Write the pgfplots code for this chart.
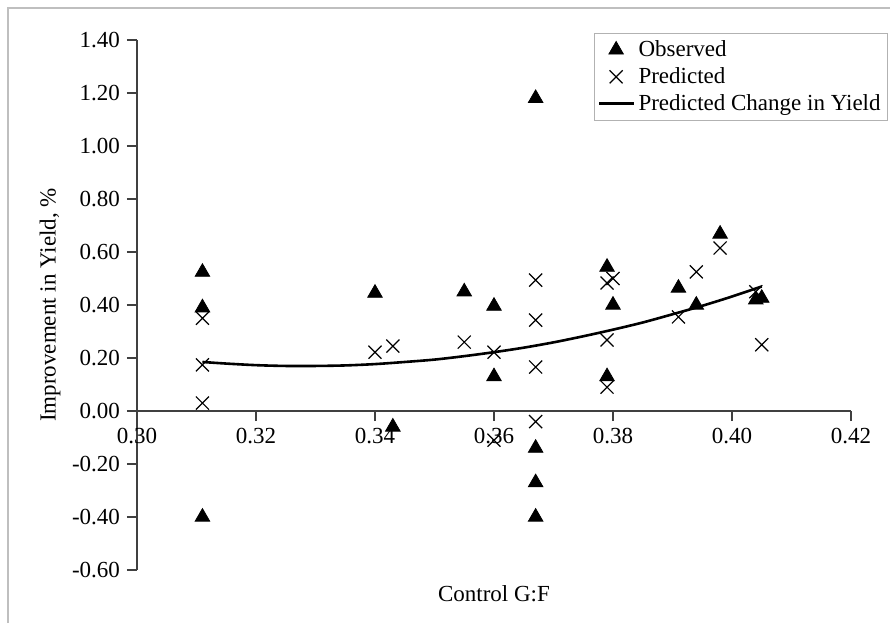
\documentclass[border=0pt]{standalone}
\usepackage{fontspec}
\setmainfont{Liberation Serif}
\usepackage{pgfplots}
\pgfplotsset{compat=1.18}
\begin{document}
\begin{tikzpicture}
\begin{axis}[
  scale only axis, width=357pt, height=265pt,
  xmin=0.30, xmax=0.42, ymin=-0.60, ymax=1.40,
  enlargelimits=false, clip=false,
  axis x line=middle, axis y line=left,
  axis line style={-, black!75, line width=0.8pt},
  xtick={0.30,0.32,0.34,0.36,0.38,0.40,0.42},
  ytick={-0.6,-0.4,-0.2,0,0.2,0.4,0.6,0.8,1.0,1.2,1.4},
  xtick align=outside, ytick align=outside,
  hide obscured x ticks=false,
  major tick length=5pt, minor tick num=0,
  tick style={black!75, line width=0.8pt},
  ticklabel style={font=\fontsize{11.5}{13.5}\selectfont},
  /pgf/number format/fixed, /pgf/number format/fixed zerofill,
  /pgf/number format/precision=2,
  /pgf/number format/assume math mode=true,
  xlabel={Control G:F},
  ylabel={Improvement in Yield, \%},
  label style={font=\fontsize{11.5}{13.5}\selectfont},
  xlabel style={at={(axis description cs:0.5,0)}, anchor=north, yshift=-4pt},
  ylabel style={at={([xshift=-43.5pt]axis description cs:0,0.5)}, anchor=center},
  legend style={at={(rel axis cs:1,1)}, anchor=north east, xshift=18.5pt, yshift=3.5pt,
    draw=gray!60, fill=white, font=\fontsize{11.5}{13.5}\selectfont,
    cells={anchor=west}, row sep=0pt, inner sep=1.5pt},
]
\addplot[only marks, mark=triangle*, mark size=4.2pt, black] coordinates {
  (0.311,0.524) (0.311,0.39) (0.311,-0.40) (0.340,0.445) (0.343,-0.06)
  (0.355,0.45) (0.360,0.396) (0.360,0.13) (0.367,1.18) (0.367,-0.14)
  (0.367,-0.27) (0.367,-0.40) (0.379,0.543) (0.379,0.13) (0.380,0.40)
  (0.391,0.464) (0.394,0.40) (0.398,0.668) (0.404,0.42) (0.405,0.426)
};
\addlegendentry{Observed}
\addplot[only marks, mark=x, mark size=4.6pt, black, mark options={line width=0.6pt}] coordinates {
  (0.311,0.35) (0.311,0.174) (0.311,0.03) (0.340,0.222) (0.343,0.245)
  (0.355,0.26) (0.360,0.222) (0.360,-0.11) (0.367,0.494) (0.367,0.343)
  (0.367,0.166) (0.367,-0.04) (0.379,0.483) (0.379,0.268) (0.379,0.09)
  (0.380,0.50) (0.391,0.355) (0.394,0.525) (0.398,0.615) (0.404,0.45)
  (0.405,0.25)
};
\addlegendentry{Predicted}
\addplot[no marks, smooth, black, line width=1.3pt] coordinates {
  (0.311,0.185) (0.315,0.179) (0.320,0.173) (0.325,0.170) (0.330,0.170)
  (0.335,0.172) (0.340,0.177) (0.345,0.185) (0.350,0.194) (0.355,0.207)
  (0.360,0.222) (0.365,0.239) (0.370,0.259) (0.375,0.282) (0.380,0.307)
  (0.385,0.334) (0.390,0.365) (0.395,0.397) (0.400,0.432) (0.405,0.470)
};
\addlegendentry{Predicted Change in Yield}
\coordinate (bl) at (rel axis cs:0,0);
\coordinate (tr) at (rel axis cs:1,1);
\end{axis}
\draw[gray!50, line width=1pt] ([xshift=-64.5pt,yshift=-26.5pt]bl) |- ([xshift=19.5pt,yshift=16pt]tr);
\pgfresetboundingbox
\path ([xshift=-68.5pt,yshift=-26.5pt]bl) rectangle ([xshift=19.5pt,yshift=20pt]tr);
\end{tikzpicture}
\end{document}
